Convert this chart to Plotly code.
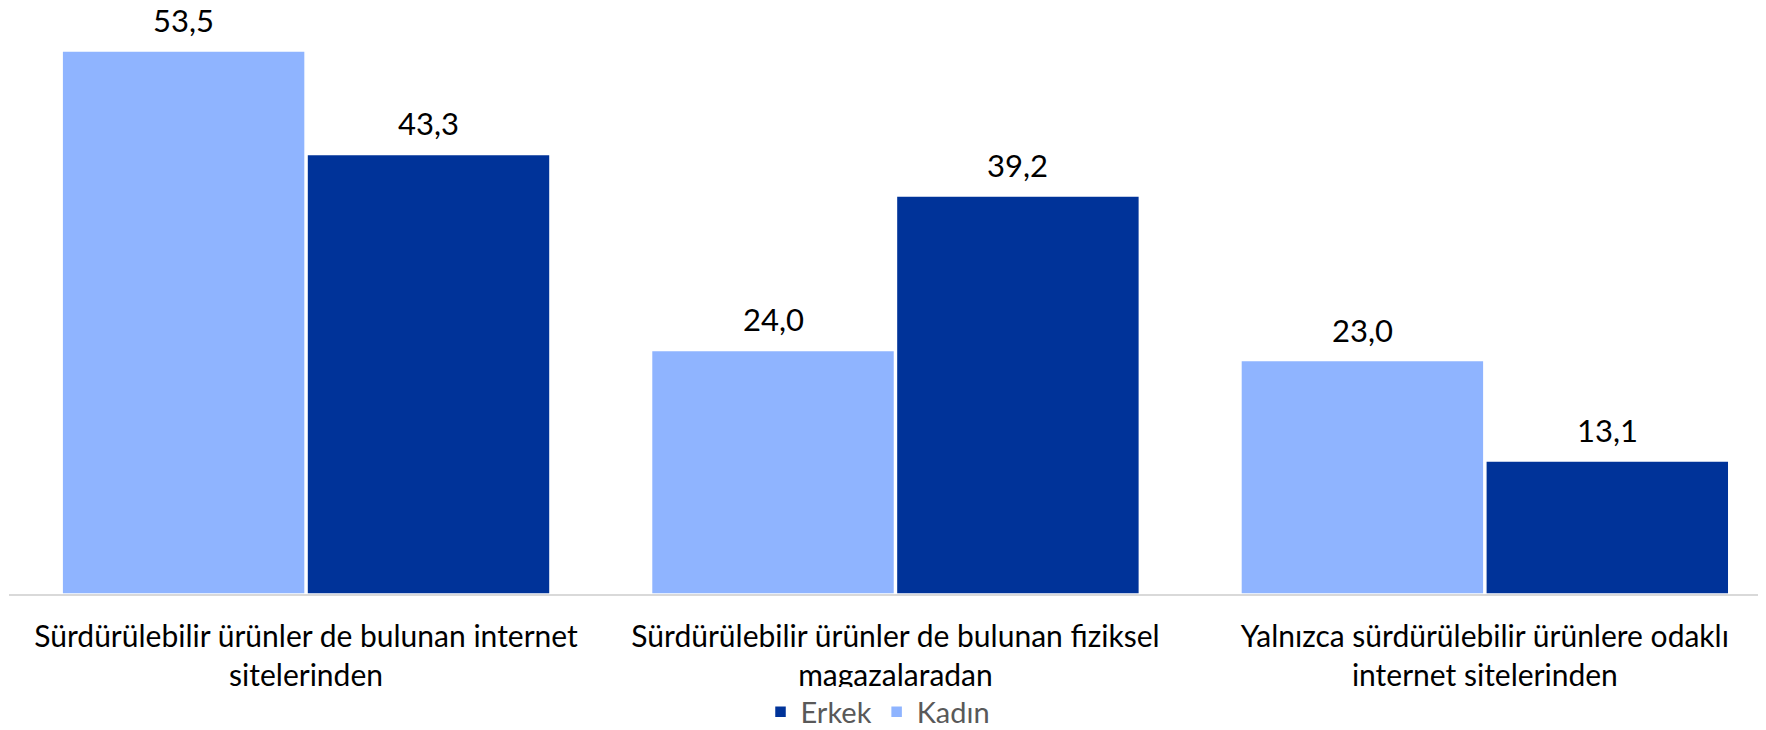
import plotly.graph_objects as go

categories = [
    "Sürdürülebilir ürünler de bulunan internet<br>sitelerinden",
    "Sürdürülebilir ürünler de bulunan fiziksel<br>magazalaradan",
    "Yalnızca sürdürülebilir ürünlere odaklı<br>internet sitelerinden",
]
kadin = [53.5, 24.0, 23.0]
erkek = [43.3, 39.2, 13.1]
kadin_labels = ["53,5", "24,0", "23,0"]
erkek_labels = ["43,3", "39,2", "13,1"]

FONT = "Lato"
# page body has an 8px default margin, so the figure is sized to the remaining area
W, H = 1758, 722
ML, MR, MT, MB = 1, 0, 0, 136
XR = [-0.504, 2.477]
YR = [0, 57.73]
BARGAP = 0.169

fig = go.Figure()
fig.add_trace(go.Bar(
    x=categories, y=kadin, name="Kadın",
    marker=dict(color="#8FB4FF", line=dict(color="white", width=1.5)),
))
fig.add_trace(go.Bar(
    x=categories, y=erkek, name="Erkek",
    marker=dict(color="#003399", line=dict(color="white", width=1.5)),
))

# value labels above bars (pixel offsets derived from layout geometry)
px_per_cat = (W - ML - MR) / (XR[1] - XR[0])
half_slot = px_per_cat * (1 - BARGAP) / 4
for cat, v, lab in zip(categories, kadin, kadin_labels):
    fig.add_annotation(x=cat, y=v, text=lab, showarrow=False, xshift=-half_slot,
                       yshift=31, yanchor="middle",
                       font=dict(family=FONT, size=31, color="black"))
for cat, v, lab in zip(categories, erkek, erkek_labels):
    fig.add_annotation(x=cat, y=v, text=lab, showarrow=False, xshift=half_slot,
                       yshift=31, yanchor="middle",
                       font=dict(family=FONT, size=31, color="black"))

fig.update_layout(
    width=W, height=H,
    margin=dict(l=ML, r=MR, t=MT, b=MB, autoexpand=False),
    paper_bgcolor="white", plot_bgcolor="white",
    barmode="group", bargap=BARGAP, bargroupgap=0.008,
    font=dict(family=FONT, size=30, color="black"),
    showlegend=True,
    legend=dict(
        orientation="h", x=0.4946, xanchor="center", y=-0.2014, yanchor="middle",
        traceorder="reversed", font=dict(family=FONT, size=29, color="#595959"),
        itemwidth=30,
    ),
    xaxis=dict(
        range=XR, showline=True, linecolor="#D9D9D9", linewidth=2,
        ticks="", showgrid=False, ticklabelstandoff=15,
        tickfont=dict(family=FONT, size=30, color="black"),
    ),
    yaxis=dict(range=YR, visible=False, showgrid=False, zeroline=False),
)

fig.write_html("out.html")
